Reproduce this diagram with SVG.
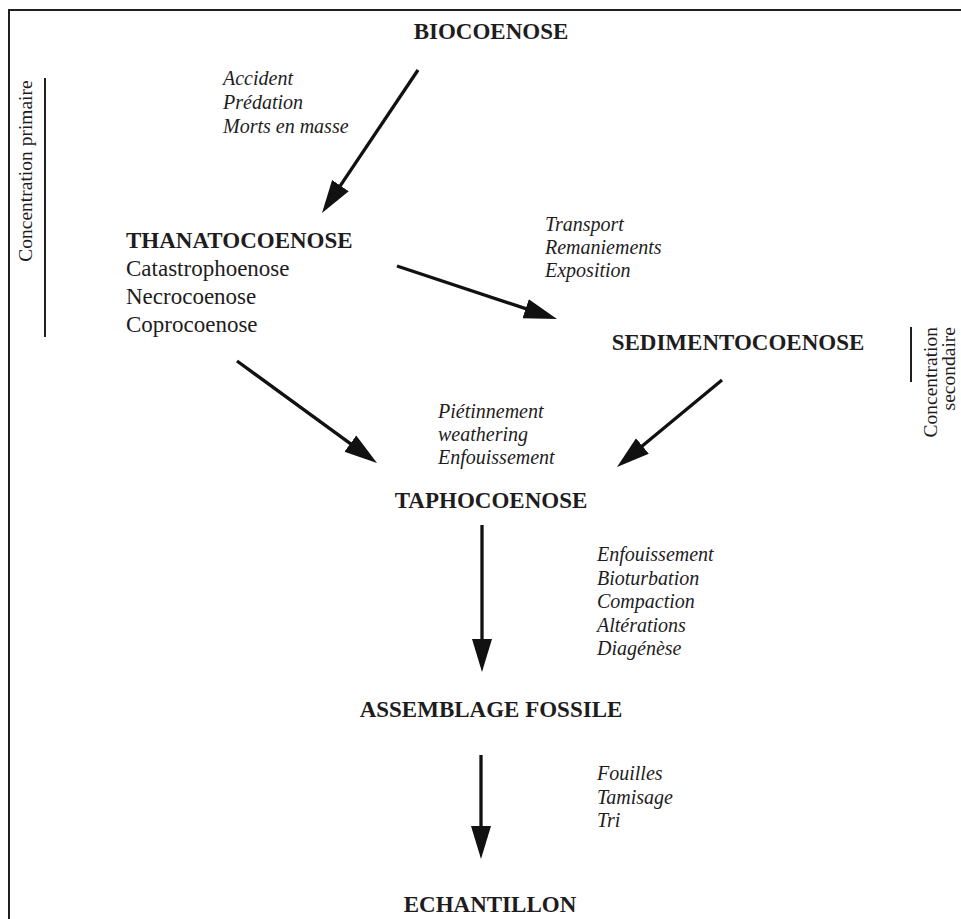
<svg xmlns="http://www.w3.org/2000/svg" width="961" height="919" viewBox="0 0 961 919">
<style>
.t{font-family:"Liberation Serif","Times New Roman",serif;font-weight:bold;font-size:23px;fill:#1e1c1d;text-anchor:middle}
.r{font-family:"Liberation Serif","Times New Roman",serif;font-size:23px;fill:#1e1c1d}
.i{font-family:"Liberation Serif","Times New Roman",serif;font-style:italic;font-size:20px;fill:#1e1c1d}
.s{font-family:"Liberation Serif","Times New Roman",serif;font-size:19.5px;fill:#1e1c1d}
.c{stroke:#111;stroke-width:3.3;fill:none;marker-end:url(#ah)}
.b{stroke:#231f20;stroke-width:2;fill:none}
</style>
<defs>
<marker id="ah" markerUnits="userSpaceOnUse" markerWidth="34" markerHeight="22" viewBox="0 -11 34 22" refX="23" refY="0" orient="auto">
<path d="M0,-10 L33,0 L0,10 Z" fill="#111"/>
</marker>
</defs>
<rect width="961" height="919" fill="#fff"/>
<g id="frame">
<line class="b" x1="8" y1="10" x2="961" y2="10"/>
<line class="b" x1="9" y1="9" x2="9" y2="919"/>
</g>
<g id="connectors">
<line class="c" x1="418" y1="70" x2="327.6" y2="204.7"/>
<line class="c" x1="397" y1="266" x2="547.5" y2="315.9"/>
<line class="c" x1="237" y1="361" x2="368.9" y2="457.1"/>
<line class="c" x1="722" y1="380" x2="624.7" y2="460.6"/>
<line class="c" x1="482" y1="525" x2="482" y2="662"/>
<line class="c" x1="481" y1="755" x2="481" y2="849"/>
</g>
<g id="biocoenose"><text class="t" x="491" y="39">BIOCOENOSE</text></g>
<g id="thanatocoenose">
<text class="t" x="126" y="248" style="text-anchor:start">THANATOCOENOSE</text>
<text class="r" x="126" y="276">Catastrophoenose</text>
<text class="r" x="126" y="304">Necrocoenose</text>
<text class="r" x="126" y="332">Coprocoenose</text>
</g>
<g id="sedimentocoenose"><text class="t" x="738" y="350">SEDIMENTOCOENOSE</text></g>
<g id="taphocoenose"><text class="t" x="491" y="508">TAPHOCOENOSE</text></g>
<g id="assemblage"><text class="t" x="491" y="717">ASSEMBLAGE FOSSILE</text></g>
<g id="echantillon"><text class="t" x="490" y="912">ECHANTILLON</text></g>
<g id="labels">
<text class="i" x="223" y="85">Accident</text>
<text class="i" x="223" y="109">Prédation</text>
<text class="i" x="223" y="133">Morts en masse</text>
<text class="i" x="545" y="231">Transport</text>
<text class="i" x="545" y="254">Remaniements</text>
<text class="i" x="545" y="277">Exposition</text>
<text class="i" x="438" y="418">Piétinnement</text>
<text class="i" x="438" y="441">weathering</text>
<text class="i" x="438" y="464">Enfouissement</text>
<text class="i" x="597" y="561">Enfouissement</text>
<text class="i" x="597" y="585">Bioturbation</text>
<text class="i" x="597" y="608">Compaction</text>
<text class="i" x="597" y="632">Altérations</text>
<text class="i" x="597" y="655">Diagénèse</text>
<text class="i" x="597" y="780">Fouilles</text>
<text class="i" x="597" y="804">Tamisage</text>
<text class="i" x="597" y="827">Tri</text>
</g>
<g id="concentration-primaire">
<line class="b" x1="45" y1="78" x2="45" y2="337"/>
<text class="s" transform="translate(32,171) rotate(-90)" text-anchor="middle">Concentration primaire</text>
</g>
<g id="concentration-secondaire">
<line class="b" x1="911" y1="327" x2="911" y2="382"/>
<text class="s" transform="translate(937,327) rotate(-90)" text-anchor="end">Concentration</text>
<text class="s" transform="translate(955,327) rotate(-90)" text-anchor="end">secondaire</text>
</g>
</svg>
